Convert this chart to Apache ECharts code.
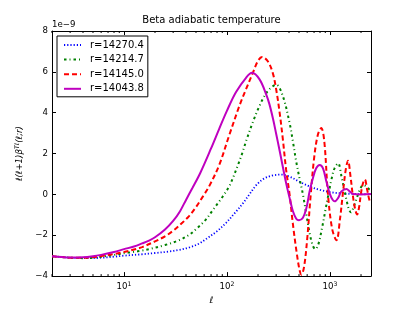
<!DOCTYPE html>
<html><head><meta charset="utf-8">
<script src="https://cdn.jsdelivr.net/npm/echarts@6/dist/echarts.min.js"></script>
<style>html,body{margin:0;padding:0;background:#fff}#c{width:413px;height:310px}</style>
</head><body><div id="c"></div>
<script>
const titleText = 'Beta adiabatic temperature';
const seriesNames = ['r=14270.4', 'r=14214.7', 'r=14145.0', 'r=14043.8'];
const seriesColors = ['#0000ff', '#008000', '#ff0000', '#bf00bf'];

const ellBlue = [2, 3, 4, 5, 6, 8, 10, 15, 20, 27, 34, 43, 54, 62, 80, 98, 122, 142, 165, 192, 230, 280, 336, 400, 506, 634, 800, 1000, 1300, 1800, 2500];
const valBlue = [-3.03, -3.1, -3.12, -3.12, -3.1, -3.05, -3.0, -2.93, -2.87, -2.8, -2.72, -2.6, -2.4, -2.2, -1.8, -1.39, -0.85, -0.45, 0.0, 0.45, 0.78, 0.93, 0.97, 0.88, 0.62, 0.39, 0.22, 0.11, 0.05, 0.02, 0.0];

const ellGreen = [2, 2.5, 3, 4, 5, 6, 8.3, 10, 12.2, 15, 17.5, 25, 34, 43, 50, 62, 72, 84, 91, 105, 113, 128, 142, 153, 180, 207, 230, 258, 300, 348, 405, 436, 470, 510, 546, 590, 634, 680, 720, 770, 840, 900, 965, 1030, 1100, 1200, 1290, 1380, 1450, 1530, 1600, 1700, 1800, 1900, 2000, 2100, 2250, 2400, 2500];
const valGreen = [-3.03, -3.07, -3.1, -3.12, -3.1, -3.05, -2.95, -2.88, -2.82, -2.75, -2.68, -2.48, -2.25, -1.98, -1.7, -1.25, -0.8, -0.35, -0.1, 0.39, 0.75, 1.45, 2.08, 2.6, 3.6, 4.34, 4.8, 5.15, 5.37, 4.82, 3.5, 2.6, 1.6, 0.7, 0.0, -1.0, -1.9, -2.5, -2.68, -2.45, -1.6, -0.8, 0.0, 0.7, 1.25, 1.52, 0.9, 0.2, -0.3, -0.75, -0.88, -0.6, -0.25, 0.1, 0.35, 0.45, 0.4, 0.25, 0.2];

const ellRed = [2, 2.5, 3, 4, 5, 6, 8, 10, 12.5, 15, 20, 25, 30, 37, 43, 50, 58, 67, 84, 105, 132, 153, 178, 199, 219, 249, 278, 300, 324, 348, 375, 405, 435, 470, 506, 528, 560, 600, 650, 700, 760, 822, 880, 955, 1050, 1156, 1250, 1330, 1420, 1496, 1580, 1660, 1750, 1834, 1920, 1990, 2090, 2178, 2300, 2420, 2500];
const valRed = [-3.03, -3.07, -3.1, -3.1, -3.07, -3.02, -2.92, -2.82, -2.7, -2.58, -2.3, -2.05, -1.78, -1.38, -1.05, -0.62, -0.12, 0.39, 1.44, 2.89, 4.34, 5.15, 5.95, 6.52, 6.73, 6.52, 5.95, 5.15, 4.02, 2.73, 1.2, 0.0, -1.4, -2.7, -3.7, -3.93, -3.55, -2.2, 0.0, 1.75, 2.9, 3.25, 2.6, 0.0, -1.7, -2.25, -1.2, 0.0, 1.2, 1.65, 0.9, 0.0, -0.7, -0.98, -0.6, 0.0, 0.55, 0.73, 0.2, -0.3, -0.42];

const ellMag = [2, 2.5, 3, 4, 5, 6, 8, 10, 12.5, 15, 17.5, 20, 25, 30, 35, 40, 46, 55, 70, 84, 100, 122, 153, 175, 207, 240, 258, 280, 300, 324, 375, 405, 435, 470, 500, 546, 590, 634, 682, 734, 794, 855, 922, 1000, 1060, 1110, 1200, 1290, 1446, 1550, 1670, 2000, 2500];
const valMag = [-3.03, -3.07, -3.09, -3.08, -3.03, -2.96, -2.82, -2.68, -2.55, -2.4, -2.26, -2.1, -1.72, -1.3, -0.82, -0.27, 0.3, 1.05, 2.25, 3.21, 4.1, 5.0, 5.71, 5.95, 5.63, 4.9, 4.42, 3.69, 2.97, 2.15, 0.55, -0.17, -0.8, -1.19, -1.26, -1.14, -0.66, 0.15, 0.79, 1.28, 1.44, 1.28, 0.63, 0.0, -0.26, -0.34, -0.17, 0.15, 0.27, 0.15, 0.02, 0.0, 0.02];

const yTicks = [-4, -2, 0, 2, 4, 6, 8];
const xMinorTicks = [2, 3, 4, 5, 6, 7, 8, 9, 20, 30, 40, 50, 60, 70, 80, 90, 200, 300, 400, 500, 600, 700, 800, 900, 2000];
const yOffsetText = '1e\u22129';

const FONT = 'DejaVu Sans';
const XMIN = 2, XMAX = 2500, YMIN = -4, YMAX = 8;
function zip(a, b) { return a.map((x, i) => [x, b[i]]); }

const chart = echarts.init(document.getElementById('c'), null, { renderer: 'canvas' });

function xFmt(v) {
  const e = Math.round(Math.log10(v));
  if (Math.abs(Math.pow(10, e) - v) > 1e-6 * v) return '';
  return '{b|10}{s|' + e + '}';
}
function yFmt(v) { return v < 0 ? '\u2212' + Math.abs(v) : String(v); }

const lineStyles = [
  { width: 1.8, type: [1.2, 2] },
  { width: 2, type: [2.5, 3, 1, 3] },
  { width: 2, type: [5, 3] },
  { width: 2, type: 'solid' }
];
const vals = [[ellBlue, valBlue], [ellGreen, valGreen], [ellRed, valRed], [ellMag, valMag]];

const series = vals.map((p, i) => ({
  name: seriesNames[i], type: 'line', xAxisIndex: 0, yAxisIndex: 0,
  data: zip(p[0], p[1]), showSymbol: false, symbol: 'none', smooth: 0.35,
  lineStyle: Object.assign({ color: seriesColors[i] }, lineStyles[i]),
  itemStyle: { color: seriesColors[i] }, animation: false, z: 2 + i
}));

series.push({
  type: 'custom', xAxisIndex: 0, yAxisIndex: 0, silent: true, animation: false, z: 10,
  data: xMinorTicks.map(v => [v, 0]),
  renderItem: function (params, api) {
    const x = api.value(0);
    const pb = api.coord([x, YMIN]);
    const pt = api.coord([x, YMAX]);
    return { type: 'group', children: [
      { type: 'line', shape: { x1: pb[0], y1: pb[1], x2: pb[0], y2: pb[1] - 2 }, style: { stroke: '#000', lineWidth: 1 } },
      { type: 'line', shape: { x1: pt[0], y1: pt[1], x2: pt[0], y2: pt[1] + 2 }, style: { stroke: '#000', lineWidth: 1 } }
    ] };
  }
});

const axisLineStyle = { show: true, onZero: false, lineStyle: { color: '#000', width: 1 } };

chart.setOption({
  backgroundColor: '#fff',
  animation: false,
  title: { text: titleText, left: 211.5, top: 15, textAlign: 'center', padding: 0,
    textStyle: { fontFamily: FONT, fontSize: 10, fontWeight: 'normal', color: '#000' } },
  legend: {
    orient: 'vertical', left: 57, top: 36, data: seriesNames,
    itemWidth: 17, itemHeight: 8, itemGap: 2.6,
    itemStyle: { opacity: 0 },
    padding: [3, 4, 2, 6], borderColor: '#000', borderWidth: 1, borderRadius: 0,
    textStyle: { fontFamily: FONT, fontSize: 10, color: '#000', lineHeight: 12, padding: [0, 0, 0, 4] }
  },
  grid: { left: 52, right: 42, top: 31, bottom: 31, show: false },
  xAxis: [
    { type: 'log', logBase: 10, min: XMIN, max: XMAX, position: 'bottom',
      axisLine: axisLineStyle, splitLine: { show: false },
      name: '\u2113', nameLocation: 'middle', nameGap: 17,
      nameTextStyle: { fontFamily: FONT, fontSize: 9, fontStyle: 'italic', color: '#000' },
      axisTick: { show: true, inside: true, length: 4, lineStyle: { color: '#000' } },
      minorTick: { show: false },
      axisLabel: { show: true, margin: 5, formatter: xFmt, showMinLabel: false, showMaxLabel: false,
        rich: { b: { fontFamily: FONT, fontSize: 8.6, color: '#000', verticalAlign: 'bottom' },
                s: { fontFamily: FONT, fontSize: 6.2, color: '#000', verticalAlign: 'bottom', padding: [0, 0, 4, 0] } } }
    },
    { type: 'log', logBase: 10, min: XMIN, max: XMAX, position: 'top',
      axisLine: axisLineStyle, splitLine: { show: false },
      axisTick: { show: true, inside: true, length: 4, lineStyle: { color: '#000' } },
      axisLabel: { show: false }
    }
  ],
  yAxis: [
    { type: 'value', min: YMIN, max: YMAX, interval: 2, position: 'left',
      axisLine: axisLineStyle, splitLine: { show: false },
      name: '{i|\u2113(\u2113+1)\u03b2}{s|T\u2113}{i|(\u2113;r)}', nameLocation: 'middle', nameGap: 24, nameRotate: 90,
      nameTextStyle: { rich: {
        i: { fontFamily: FONT, fontSize: 8.6, fontStyle: 'italic', color: '#000', verticalAlign: 'bottom' },
        s: { fontFamily: FONT, fontSize: 6.2, fontStyle: 'italic', color: '#000', verticalAlign: 'bottom', padding: [0, 0, 4, 0] } } },
      axisTick: { show: true, inside: true, length: 4, lineStyle: { color: '#000' } },
      axisLabel: { margin: 4, formatter: yFmt, fontFamily: FONT, fontSize: 8.6, color: '#000' }
    },
    { type: 'value', min: YMIN, max: YMAX, interval: 2, position: 'right',
      axisLine: axisLineStyle, splitLine: { show: false },
      axisTick: { show: true, inside: true, length: 4, lineStyle: { color: '#000' } },
      axisLabel: { show: false }
    }
  ],
  graphic: [
    { type: 'text', left: 52, top: 20, style: { text: yOffsetText, fontFamily: FONT, fontSize: 8.6, fill: '#000' } }
  ],
  series: series
});
</script>
</body></html>
